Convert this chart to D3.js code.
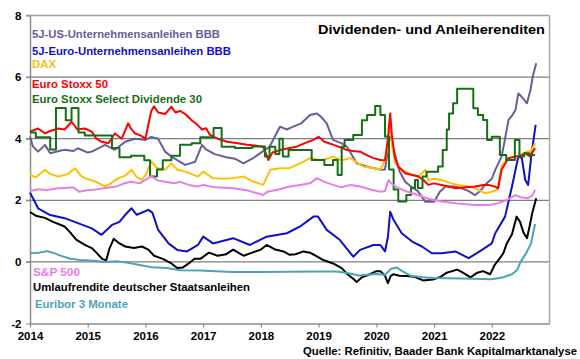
<!DOCTYPE html>
<html><head><meta charset="utf-8">
<script src="https://cdn.jsdelivr.net/npm/d3@7"></script>
<style>
html,body{margin:0;padding:0;background:#fff;}
svg{display:block;font-family:"Liberation Sans",Arial,sans-serif;font-weight:bold;}
</style></head>
<body><svg id="c" width="580" height="359"></svg>
<script>
// ---- data: [decimal year, value in %] ----
const yearTicks = [2014,2015,2016,2017,2018,2019,2020,2021,2022];
const yTicks = [-2,0,2,4,6,8];
const seriesNames = ["5J-US-Unternehmensanleihen BBB","5J-Euro-Unternehmensanleihen BBB","DAX","Euro Stoxx 50","Euro Stoxx Select Dividende 30","S&P 500","Umlaufrendite deutscher Staatsanleihen","Euribor 3 Monate"];
const seriesColors = ["#6A5D99","#1010CC","#FFC000","#FF0000","#157015","#E87DE8","#000000","#4AA3BC"];

const usBBB = [[2014.0,4.07],[2014.05,3.75],[2014.14,3.58],[2014.26,3.8],[2014.35,3.53],[2014.5,3.6],[2014.6,3.64],[2014.75,3.6],[2014.83,3.69],[2015.0,3.55],[2015.07,3.58],[2015.2,3.7],[2015.3,3.8],[2015.47,3.64],[2015.65,3.9],[2015.82,4.0],[2016.0,3.96],[2016.1,4.06],[2016.22,4.0],[2016.34,3.58],[2016.45,3.42],[2016.6,3.25],[2016.69,3.15],[2016.86,3.25],[2016.98,3.8],[2017.05,3.65],[2017.2,3.5],[2017.4,3.4],[2017.55,3.35],[2017.7,3.2],[2017.85,3.35],[2017.99,3.53],[2018.15,3.74],[2018.33,4.39],[2018.45,4.3],[2018.56,4.39],[2018.7,4.5],[2018.85,4.77],[2018.97,4.82],[2019.05,4.7],[2019.14,4.5],[2019.25,3.96],[2019.4,3.85],[2019.49,3.74],[2019.6,3.4],[2019.66,3.2],[2019.84,3.1],[2020.07,2.99],[2020.15,3.0],[2020.2,3.6],[2020.24,4.23],[2020.3,3.63],[2020.4,2.95],[2020.5,2.6],[2020.6,2.45],[2020.72,2.3],[2020.85,1.95],[2021.0,1.95],[2021.1,2.28],[2021.2,2.45],[2021.35,2.45],[2021.48,2.39],[2021.6,2.3],[2021.71,2.17],[2021.8,2.3],[2021.88,2.5],[2022.0,2.7],[2022.06,2.99],[2022.17,3.42],[2022.23,4.0],[2022.29,4.61],[2022.35,4.75],[2022.41,4.93],[2022.46,5.47],[2022.52,5.36],[2022.61,5.15],[2022.67,5.58],[2022.71,6.02],[2022.77,6.45]];

const euroBBB = [[2014.0,2.25],[2014.07,2.0],[2014.14,1.74],[2014.35,1.52],[2014.6,1.42],[2014.83,1.26],[2015.07,1.09],[2015.24,0.88],[2015.42,1.2],[2015.55,1.3],[2015.65,1.53],[2015.76,1.74],[2015.85,1.53],[2016.05,1.69],[2016.12,1.6],[2016.22,1.04],[2016.4,0.6],[2016.55,0.39],[2016.72,0.34],[2016.91,0.55],[2017.0,0.82],[2017.17,0.6],[2017.52,0.77],[2017.81,0.55],[2018.1,0.82],[2018.45,0.93],[2018.68,1.15],[2018.91,1.47],[2018.99,1.47],[2019.14,1.04],[2019.37,0.71],[2019.6,0.17],[2019.72,0.39],[2019.95,0.55],[2020.07,0.55],[2020.15,0.34],[2020.2,0.8],[2020.24,1.63],[2020.3,1.36],[2020.44,0.93],[2020.62,0.66],[2020.79,0.5],[2020.96,0.28],[2021.13,0.28],[2021.37,0.34],[2021.6,0.12],[2021.83,0.39],[2022.0,0.6],[2022.06,0.93],[2022.23,1.47],[2022.35,2.45],[2022.46,3.42],[2022.52,3.37],[2022.58,2.66],[2022.63,2.5],[2022.69,3.53],[2022.76,4.45]];

const dax = [[2014.0,2.82],[2014.1,2.75],[2014.26,2.99],[2014.35,2.85],[2014.49,2.77],[2014.65,2.85],[2014.78,3.04],[2014.88,2.8],[2014.95,2.72],[2015.13,2.61],[2015.3,2.45],[2015.4,2.55],[2015.53,2.72],[2015.65,2.8],[2015.76,2.99],[2015.85,2.75],[2015.94,2.66],[2016.02,2.88],[2016.1,3.26],[2016.2,3.05],[2016.34,2.99],[2016.45,3.2],[2016.55,3.0],[2016.69,2.93],[2016.8,2.85],[2016.91,2.77],[2017.0,2.93],[2017.17,2.72],[2017.35,2.7],[2017.52,2.72],[2017.7,2.77],[2017.85,2.62],[2018.04,2.5],[2018.16,2.99],[2018.33,3.04],[2018.5,3.05],[2018.68,3.2],[2018.85,3.37],[2019.03,3.3],[2019.15,3.35],[2019.25,3.42],[2019.4,3.3],[2019.55,3.37],[2019.65,3.25],[2019.77,3.1],[2019.95,3.05],[2020.07,2.99],[2020.15,3.3],[2020.2,3.8],[2020.24,4.39],[2020.28,3.7],[2020.33,3.2],[2020.44,2.99],[2020.6,2.85],[2020.73,2.77],[2020.85,2.99],[2020.9,2.66],[2021.0,2.7],[2021.13,2.66],[2021.3,2.55],[2021.42,2.5],[2021.6,2.45],[2021.71,2.39],[2021.88,2.23],[2022.0,2.28],[2022.1,2.35],[2022.17,3.1],[2022.29,3.37],[2022.4,3.4],[2022.52,3.47],[2022.6,3.58],[2022.68,3.6],[2022.75,3.85]];

const es50 = [[2014.0,4.23],[2014.14,4.33],[2014.26,4.17],[2014.35,4.25],[2014.49,4.33],[2014.6,4.3],[2014.72,4.55],[2014.82,4.3],[2014.95,4.33],[2015.07,4.23],[2015.15,4.0],[2015.24,3.9],[2015.36,3.85],[2015.47,4.17],[2015.59,4.0],[2015.7,4.5],[2015.76,4.3],[2015.82,4.17],[2015.92,4.1],[2016.0,4.0],[2016.1,4.9],[2016.15,5.05],[2016.22,4.85],[2016.34,4.8],[2016.45,5.04],[2016.52,4.85],[2016.6,4.9],[2016.69,4.8],[2016.8,4.6],[2016.9,4.45],[2016.98,4.3],[2017.05,4.34],[2017.12,4.12],[2017.25,4.0],[2017.41,3.9],[2017.6,3.85],[2017.76,3.8],[2017.9,3.78],[2018.04,3.74],[2018.13,3.31],[2018.2,3.55],[2018.33,3.63],[2018.5,3.7],[2018.62,3.74],[2018.75,3.85],[2018.91,3.96],[2019.0,4.06],[2019.1,3.9],[2019.26,3.8],[2019.4,3.7],[2019.49,3.63],[2019.6,3.6],[2019.72,3.58],[2019.85,3.45],[2019.95,3.37],[2020.07,3.31],[2020.15,3.3],[2020.2,4.0],[2020.24,4.82],[2020.27,4.1],[2020.32,3.4],[2020.38,3.1],[2020.5,2.88],[2020.62,2.82],[2020.73,2.77],[2020.82,2.65],[2020.9,2.5],[2021.0,2.55],[2021.13,2.5],[2021.25,2.45],[2021.37,2.39],[2021.55,2.42],[2021.71,2.45],[2021.85,2.5],[2021.94,2.5],[2022.05,2.45],[2022.11,2.39],[2022.17,2.99],[2022.29,3.37],[2022.41,3.42],[2022.5,3.45],[2022.58,3.53],[2022.66,3.42],[2022.75,3.69]];

const essd30 = [[2014.0,4.2],[2014.1,4.05],[2014.35,3.65],[2014.45,5.0],[2014.62,4.6],[2014.72,5.0],[2014.84,4.2],[2014.95,4.1],[2015.42,3.7],[2015.55,3.4],[2015.75,3.45],[2015.98,3.3],[2016.08,2.77],[2016.2,3.0],[2016.3,3.3],[2016.45,3.45],[2016.6,3.8],[2016.8,3.85],[2016.95,4.05],[2017.18,4.35],[2017.32,3.74],[2017.55,3.7],[2017.85,3.75],[2018.07,3.42],[2018.15,3.74],[2018.25,3.5],[2018.32,4.0],[2018.38,3.42],[2018.48,3.63],[2018.88,3.31],[2019.1,3.15],[2019.25,3.31],[2019.33,2.82],[2019.4,3.74],[2019.45,3.96],[2019.6,4.12],[2019.75,4.6],[2019.84,4.77],[2019.98,5.06],[2020.07,4.77],[2020.15,4.07],[2020.22,3.0],[2020.3,2.35],[2020.38,1.96],[2020.52,2.17],[2020.6,2.4],[2020.67,2.66],[2020.72,2.4],[2020.8,2.77],[2020.87,2.93],[2021.07,3.1],[2021.15,3.63],[2021.22,4.3],[2021.26,4.82],[2021.33,5.15],[2021.4,5.62],[2021.68,4.99],[2021.76,4.77],[2021.85,4.61],[2021.92,3.96],[2022.0,4.06],[2022.14,3.47],[2022.25,3.31],[2022.4,3.96],[2022.48,3.42],[2022.56,3.53],[2022.65,3.47],[2022.75,3.47]];

const sp500 = [[2014.0,2.3],[2014.15,2.36],[2014.3,2.33],[2014.45,2.38],[2014.6,2.4],[2014.75,2.42],[2014.85,2.28],[2015.0,2.33],[2015.15,2.35],[2015.3,2.4],[2015.5,2.45],[2015.65,2.56],[2015.75,2.6],[2015.9,2.55],[2016.05,2.72],[2016.1,2.79],[2016.2,2.65],[2016.34,2.6],[2016.5,2.55],[2016.6,2.6],[2016.75,2.5],[2016.91,2.45],[2017.0,2.5],[2017.2,2.42],[2017.52,2.39],[2017.75,2.33],[2017.95,2.22],[2018.04,2.17],[2018.12,2.28],[2018.3,2.35],[2018.5,2.45],[2018.68,2.5],[2018.85,2.55],[2018.97,2.72],[2019.1,2.6],[2019.25,2.5],[2019.4,2.42],[2019.55,2.5],[2019.72,2.45],[2019.9,2.35],[2020.07,2.28],[2020.15,2.3],[2020.21,2.66],[2020.26,2.55],[2020.33,2.45],[2020.5,2.3],[2020.72,2.17],[2020.9,2.05],[2021.13,1.96],[2021.4,1.9],[2021.71,1.85],[2021.95,1.85],[2022.1,1.9],[2022.25,2.0],[2022.41,2.17],[2022.5,2.1],[2022.63,2.07],[2022.7,2.15],[2022.75,2.34]];

const umlauf = [[2014.0,1.62],[2014.1,1.5],[2014.26,1.43],[2014.4,1.3],[2014.6,1.15],[2014.7,0.95],[2014.8,0.72],[2014.95,0.55],[2015.07,0.45],[2015.15,0.3],[2015.25,0.1],[2015.32,0.05],[2015.38,0.45],[2015.45,0.75],[2015.55,0.6],[2015.65,0.5],[2015.8,0.45],[2015.94,0.5],[2016.05,0.4],[2016.15,0.2],[2016.3,0.1],[2016.45,-0.05],[2016.55,-0.2],[2016.65,-0.18],[2016.75,-0.05],[2016.85,0.1],[2016.95,0.1],[2017.1,0.3],[2017.25,0.2],[2017.4,0.25],[2017.52,0.4],[2017.7,0.2],[2017.85,0.3],[2018.0,0.4],[2018.1,0.55],[2018.25,0.4],[2018.39,0.34],[2018.5,0.23],[2018.6,0.25],[2018.74,0.34],[2018.85,0.3],[2019.0,0.15],[2019.08,0.06],[2019.25,-0.05],[2019.4,-0.2],[2019.5,-0.4],[2019.6,-0.55],[2019.66,-0.65],[2019.75,-0.5],[2019.89,-0.4],[2020.0,-0.3],[2020.07,-0.3],[2020.15,-0.45],[2020.2,-0.69],[2020.25,-0.45],[2020.3,-0.4],[2020.4,-0.45],[2020.53,-0.46],[2020.65,-0.48],[2020.81,-0.6],[2020.98,-0.57],[2021.1,-0.5],[2021.22,-0.35],[2021.4,-0.25],[2021.5,-0.35],[2021.63,-0.5],[2021.75,-0.35],[2021.85,-0.3],[2021.97,-0.4],[2022.05,-0.1],[2022.15,0.15],[2022.2,0.28],[2022.26,0.6],[2022.35,0.9],[2022.43,1.47],[2022.49,1.3],[2022.55,0.95],[2022.61,0.77],[2022.66,1.2],[2022.7,1.58],[2022.77,2.07]];

const euribor = [[2014.0,0.28],[2014.15,0.3],[2014.3,0.35],[2014.4,0.3],[2014.5,0.22],[2014.7,0.1],[2014.87,0.06],[2015.1,0.04],[2015.3,0.0],[2015.5,0.02],[2015.7,-0.03],[2015.9,-0.1],[2016.1,-0.17],[2016.37,-0.2],[2016.6,-0.27],[2016.95,-0.28],[2017.5,-0.33],[2018.0,-0.33],[2018.5,-0.32],[2019.0,-0.31],[2019.3,-0.31],[2019.5,-0.36],[2019.7,-0.44],[2020.0,-0.39],[2020.15,-0.42],[2020.25,-0.23],[2020.35,-0.18],[2020.45,-0.3],[2020.6,-0.45],[2020.8,-0.5],[2021.0,-0.52],[2021.5,-0.54],[2022.0,-0.56],[2022.2,-0.5],[2022.35,-0.4],[2022.44,-0.26],[2022.5,0.0],[2022.6,0.3],[2022.68,0.6],[2022.75,1.23]];

const seriesData = [usBBB, euroBBB, dax, es50, essd30, sp500, umlauf, euribor];
const stepped = [false,false,false,false,true,false,false,false];

// ---- drawing ----
const svg = d3.select("#c");
const x = d3.scaleLinear().domain([2014, 2023]).range([30, 549.5]);
const y = d3.scaleLinear().domain([-2, 8]).range([323.5, 15.5]);

// gridlines
svg.append("g").selectAll("line").data(yTicks.filter(d => d > -2)).join("line")
  .attr("x1", 26).attr("x2", x(2023))
  .attr("y1", d => y(d)).attr("y2", d => y(d))
  .attr("stroke", d => d === 8 ? "#a0a0a0" : "#7f7f7f").attr("stroke-width", 1.3);
// right border
svg.append("line").attr("x1", x(2023)).attr("x2", x(2023)).attr("y1", y(8)).attr("y2", y(-2))
  .attr("stroke", "#a6a6a6").attr("stroke-width", 1.5);

// x axis
const xAxis = d3.axisBottom(x).tickValues(yearTicks).tickFormat(d3.format("d")).tickSize(4).tickSizeOuter(0);
const gx = svg.append("g").attr("transform", `translate(0,${y(-2)})`).call(xAxis);
gx.select(".domain").attr("stroke", "#8c8c8c").attr("stroke-width", 1.5);
gx.selectAll(".tick line").attr("stroke", "#8c8c8c").attr("stroke-width", 1.2);
gx.selectAll("text").attr("font-size", 11.5).attr("font-weight", "bold").attr("fill", "#000")
  .attr("font-family", "Liberation Sans, Arial, sans-serif").attr("y", 8).attr("dy", "0.71em");

// y axis
const yAxis = d3.axisLeft(y).tickValues(yTicks).tickFormat(d3.format("d")).tickSize(4).tickSizeOuter(0);
const gy = svg.append("g").attr("transform", `translate(30,0)`).call(yAxis);
gy.select(".domain").attr("stroke", "#8c8c8c").attr("stroke-width", 1.5);
gy.selectAll(".tick line").attr("stroke", "#8c8c8c");
gy.selectAll("text").attr("font-size", 11.5).attr("font-weight", "bold").attr("fill", "#000")
  .attr("font-family", "Liberation Sans, Arial, sans-serif").attr("x", -8.5)
  .text(d => d < 0 ? "-" + Math.abs(d) : d);

// lines
seriesData.forEach((data, i) => {
  const line = d3.line().x(d => x(d[0])).y(d => y(d[1]))
    .curve(stepped[i] ? d3.curveStepAfter : d3.curveLinear);
  svg.append("path").datum(data).attr("d", line)
    .attr("fill", "none").attr("stroke", seriesColors[i]).attr("stroke-width", 2)
    .attr("stroke-linejoin", "round");
});

// legend labels
const legendPos = [[32,37.5],[32,54.5],[32,67.5],[32,88],[32,102.5],[33,276],[33,291],[35,307.5]];
const legendWidths = [188,199,0,76,170,47,217,93];
seriesNames.forEach((name, i) => {
  const t = svg.append("text").attr("x", legendPos[i][0]).attr("y", legendPos[i][1])
    .attr("font-size", 11.5).attr("font-weight", "bold").attr("fill", seriesColors[i] === "#FFC000" ? "#F0C020" : seriesColors[i])
    .text(name);
  if (legendWidths[i]) t.attr("textLength", legendWidths[i]).attr("lengthAdjust", "spacingAndGlyphs");
});

// title & source
svg.append("text").attr("x", 545).attr("y", 33.5).attr("text-anchor", "end")
  .attr("font-size", 13.5).attr("font-weight", "bold").attr("fill", "#000")
  .attr("textLength", 227).attr("lengthAdjust", "spacingAndGlyphs")
  .text("Dividenden- und Anleiherenditen");
svg.append("text").attr("x", 577).attr("y", 355).attr("text-anchor", "end")
  .attr("font-size", 11.5).attr("font-weight", "bold").attr("fill", "#000")
  .attr("textLength", 274).attr("lengthAdjust", "spacingAndGlyphs")
  .text("Quelle: Refinitiv, Baader Bank Kapitalmarktanalyse");
</script></body></html>
